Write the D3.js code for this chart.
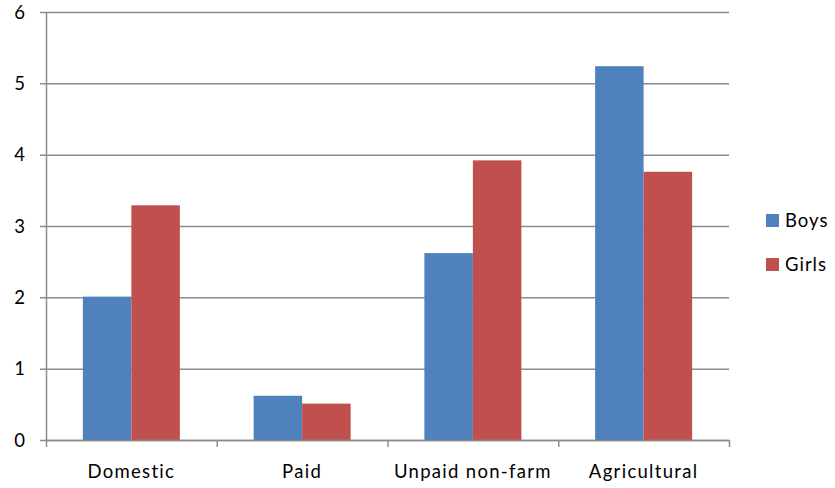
<!DOCTYPE html>
<html><head><meta charset="utf-8">
<script src="https://cdn.jsdelivr.net/npm/d3@7"></script>
<style>body{margin:0;background:#fff;} text{font-family:Lato,"Open Sans",sans-serif;}</style>
</head><body>
<svg id="chart" width="835" height="488"></svg>
<script>
const categories = ["Domestic", "Paid", "Unpaid non-farm", "Agricultural"];
const seriesNames = ["Boys", "Girls"];
const boys = [2.01, 0.62, 2.62, 5.24];
const girls = [3.29, 0.51, 3.92, 3.76];
const yTicks = [0, 1, 2, 3, 4, 5, 6];
const colors = ["#4F81BD", "#C0504D"];

(function () {
const svg = d3.select("#chart");
const pLeft = 46, pRight = 729, pTop = 12, pBottom = 440;
const x0 = d3.scaleBand().domain(categories).range([pLeft, pRight]).padding(0);
const x1 = d3.scaleBand().domain(seriesNames).range([0, x0.bandwidth()]).paddingInner(0).paddingOuter(0.76);
const y = d3.scaleLinear().domain([0, 6]).range([pBottom, pTop]);
const gridColor = "#8c8c8c";
const fs = 18.5, ls = "1.3px";

svg.append("g").selectAll("line").data(yTicks).join("line")
  .attr("x1", pLeft - 6).attr("x2", pRight)
  .attr("y1", d => y(d) + 0.5).attr("y2", d => y(d) + 0.5)
  .attr("stroke", gridColor).attr("stroke-width", 1.5);

svg.append("g").selectAll("text").data(yTicks).join("text")
  .attr("x", 25).attr("y", d => y(d) + 6.5)
  .attr("text-anchor", "end").attr("font-size", fs).attr("fill", "#000")
  .text(d => d);

const data = categories.map((c, i) => ({cat: c, vals: [boys[i], girls[i]]}));
const g = svg.append("g").selectAll("g").data(data).join("g")
  .attr("transform", d => `translate(${x0(d.cat)},0)`);
g.selectAll("rect").data(d => d.vals.map((v, j) => ({name: seriesNames[j], v, j}))).join("rect")
  .attr("x", d => x1(d.name)).attr("width", x1.bandwidth())
  .attr("y", d => y(d.v)).attr("height", d => pBottom - y(d.v))
  .attr("fill", d => colors[d.j]);

svg.append("line").attr("x1", pLeft + 0.5).attr("x2", pLeft + 0.5).attr("y1", pTop).attr("y2", pBottom)
  .attr("stroke", gridColor).attr("stroke-width", 1.5);

const xTickPos = categories.map(c => x0(c)).concat([pRight]);
svg.append("line").attr("x1", pLeft).attr("x2", pRight).attr("y1", pBottom + 0.5).attr("y2", pBottom + 0.5)
  .attr("stroke", gridColor).attr("stroke-width", 1.5);
svg.append("g").selectAll("line").data(xTickPos).join("line")
  .attr("x1", d => d + 0.5).attr("x2", d => d + 0.5).attr("y1", pBottom).attr("y2", pBottom + 7)
  .attr("stroke", gridColor).attr("stroke-width", 1.5);
svg.append("g").selectAll("text").data(categories).join("text")
  .attr("x", d => x0(d) + x0.bandwidth() / 2).attr("y", 478)
  .attr("text-anchor", "middle").attr("font-size", fs).attr("letter-spacing", ls).attr("fill", "#000")
  .text(d => d);

const lg = svg.append("g").selectAll("g").data(seriesNames).join("g")
  .attr("transform", (d, i) => `translate(766,${214 + i * 44})`);
lg.append("rect").attr("width", 13).attr("height", 13).attr("fill", (d, i) => colors[i]);
lg.append("text").attr("x", 19).attr("y", 13)
  .attr("font-size", fs).attr("letter-spacing", "1px").attr("fill", "#000").text(d => d);
})();
</script>
</body></html>
